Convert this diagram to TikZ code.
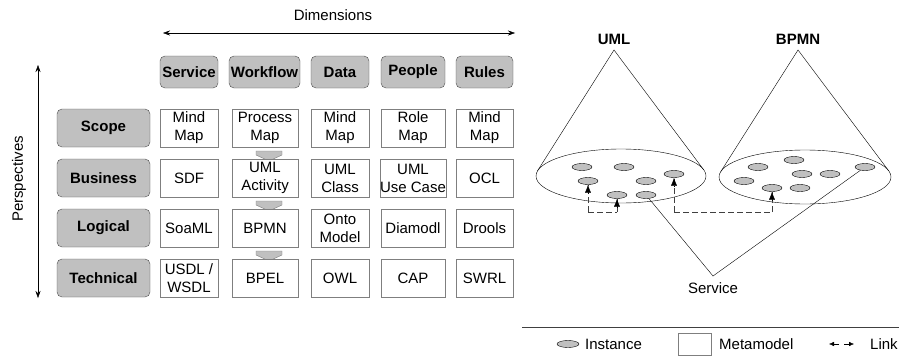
\documentclass[tikz,border=0pt]{standalone}
\usepackage{fontspec}
\setmainfont{Liberation Sans}
\usetikzlibrary{shapes.geometric,arrows.meta}
\definecolor{boxgray}{HTML}{C0C0C0}
\definecolor{edgegray}{HTML}{7F7F7F}
\begin{document}
\begin{tikzpicture}[x=1pt,y=-1pt,
  txt/.style={font=\fontsize{15}{18}\selectfont, align=center, inner sep=0pt},
  hdr/.style={txt, font=\fontsize{15}{18}\selectfont\bfseries, draw=black!70, fill=boxgray,
    rounded corners=5pt, minimum height=32pt},
  rowlbl/.style={hdr, minimum width=93pt, minimum height=38pt},
  cell/.style={txt, draw=edgegray, fill=white, minimum height=38pt},
  chev/.style={draw=edgegray, fill=boxgray},
  inst/.style={ellipse, draw=black, fill=boxgray, minimum width=20pt, minimum height=7pt, inner sep=0pt},
  tip/.style={-{Latex[length=8pt,width=6pt]}},
  smalltip/.style={-{Latex[length=5pt,width=4.5pt]}},
  link/.style={dashed, dash pattern=on 6pt off 3pt, draw=black!75},
  bothtips/.style={{Stealth[length=7pt,width=5pt]}-{Stealth[length=7pt,width=5pt]}},
]
\useasboundingbox (0,0) rectangle (899,356);

% ---------- matrix of perspectives x dimensions ----------
\node[txt] (dimlbl) at (333,15) {Dimensions};
\coordinate (dimL) at (163,33);
\coordinate (dimR) at (515,33);
\draw[bothtips] (dimL) -- (dimR);

\node[txt, rotate=90] (perlbl) at (19,179) {Perspectives};
\coordinate (perT) at (38,65);
\coordinate (perB) at (38,298);
\draw[bothtips] (perT) -- (perB);

% column headers
\node[hdr, minimum width=58pt] (hService)  at (189,72)   {Service};
\node[hdr, minimum width=71pt] (hWorkflow) at (264.5,72) {Workflow};
\node[hdr, minimum width=58pt] (hData)     at (340,72)   {Data};
\node[hdr, minimum width=64pt] (hPeople)   at (413,72)   {People};
\node[hdr, minimum width=57pt] (hRules)    at (484.5,72) {Rules};

% row headers
\node[rowlbl] (rScope)     at (103.5,128) {Scope};
\node[rowlbl] (rBusiness)  at (103.5,178) {Business};
\node[rowlbl] (rLogical)   at (103.5,228) {Logical};
\node[rowlbl] (rTechnical) at (103.5,278) {Technical};

% refinement chevrons in the workflow column
\foreach \y in {151,201,251}{
  \draw[chev] (256,\y) -- (282,\y) -- (282,\y+4) -- (269,\y+10) -- (256,\y+4) -- cycle;
}

% cells
\node[cell, minimum width=58pt] (c11) at (189,128)   {Mind\\Map};
\node[cell, minimum width=66pt] (c12) at (265,128)   {Process\\Map};
\node[cell, minimum width=58pt] (c13) at (340,128)   {Mind\\Map};
\node[cell, minimum width=64pt] (c14) at (413,128)   {Role\\Map};
\node[cell, minimum width=57pt] (c15) at (484.5,128) {Mind\\Map};

\node[cell, minimum width=58pt] (c21) at (189,178)   {SDF};
\node[cell, minimum width=66pt] (c22) at (265,178)   {UML\\Activity};
\node[cell, minimum width=58pt] (c23) at (340,178)   {UML\\Class};
\node[cell, minimum width=64pt] (c24) at (413,178)   {UML\\Use Case};
\node[cell, minimum width=57pt] (c25) at (484.5,178) {OCL};

\node[cell, minimum width=58pt] (c31) at (189,228)   {SoaML};
\node[cell, minimum width=66pt] (c32) at (265,228)   {BPMN};
\node[cell, minimum width=58pt] (c33) at (340,228)   {Onto\\Model};
\node[cell, minimum width=64pt] (c34) at (413,228)   {Diamodl};
\node[cell, minimum width=57pt] (c35) at (484.5,228) {Drools};

\node[cell, minimum width=58pt] (c41) at (189,278)   {USDL /\\WSDL};
\node[cell, minimum width=66pt] (c42) at (265,278)   {BPEL};
\node[cell, minimum width=58pt] (c43) at (340,278)   {OWL};
\node[cell, minimum width=64pt] (c44) at (413,278)   {CAP};
\node[cell, minimum width=57pt] (c45) at (484.5,278) {SWRL};

% ---------- metamodel cones ----------
\node[txt, font=\fontsize{15}{18}\selectfont\bfseries] (umlLbl)  at (614,39) {UML};
\node[txt, font=\fontsize{15}{18}\selectfont\bfseries] (bpmnLbl) at (798,39) {BPMN};
\coordinate (umlApex)  at (614,50);
\coordinate (bpmnApex) at (798,50);

\draw (621,176) ellipse [x radius=85, y radius=27];
\draw (805,177) ellipse [x radius=86, y radius=27];
\draw (537.6,170.7) -- (umlApex) -- (703.7,169.8);
\draw (720.7,171.7) -- (bpmnApex) -- (888.7,170.8);

% instances of the UML metamodel
\node[inst] (a1) at (582,167) {};
\node[inst] (a2) at (624,167) {};
\node[inst] (a3) at (674,174) {};
\node[inst] (a4) at (588,181) {};
\node[inst] (a5) at (646,181) {};
\node[inst] (a6) at (617,195) {};
\node[inst] (a7) at (646,195) {};

% instances of the BPMN metamodel
\node[inst] (b1) at (794,160) {};
\node[inst] (b2) at (758,167) {};
\node[inst] (b3) at (802,174) {};
\node[inst] (b4) at (830,174) {};
\node[inst] (b5) at (865,167) {};
\node[inst] (b6) at (744,181) {};
\node[inst] (b7) at (772,188) {};
\node[inst] (b8) at (800,188) {};

% links between instances
\coordinate (lk) at (0,212);
\draw[link] (a4.south |- lk) -- (a6.south |- lk);
\draw[link] (a4.south |- lk) -- (a4.south);
\draw[link] (a6.south |- lk) -- (a6.south);
\draw[tip] ([yshift=-9pt]a4.south) -- (a4.south);
\draw[tip] ([yshift=-9pt]a6.south) -- (a6.south);

\draw[link] (a3.south |- lk) -- (b7.south |- lk);
\draw[link] (a3.south |- lk) -- (a3.south);
\draw[link] (b7.south |- lk) -- (b7.south);
\draw[tip] ([yshift=-9pt]a3.south) -- (a3.south);
\draw[tip] ([yshift=-9pt]b7.south) -- (b7.south);

% the service spanning both models
\coordinate (sv) at (713,276);
\node[txt] (svLbl) at (713,288) {Service};
\draw (a7) -- (sv) -- (b5);

% ---------- legend ----------
\coordinate (legL) at (522,327);
\coordinate (legR) at (899,327);
\draw[draw=black!75] (legL) -- (legR);
\node[inst, minimum width=22pt] (legInst) at (568,344) {};
\node[txt, anchor=west] (legInstLbl) at (585,344) {Instance};
\node[draw=edgegray, minimum width=33pt, minimum height=22pt, inner sep=0pt] (legMeta) at (694.5,344) {};
\node[txt, anchor=west] (legMetaLbl) at (719,344) {Metamodel};
\coordinate (lkA) at (829,344);
\coordinate (lkAm) at (839,344);
\coordinate (lkBm) at (844,344);
\coordinate (lkB) at (854,344);
\draw[smalltip] (lkAm) -- (lkA);
\draw[smalltip] (lkBm) -- (lkB);
\node[txt, anchor=west] (legLinkLbl) at (870,344) {Link};
\end{tikzpicture}
\end{document}
